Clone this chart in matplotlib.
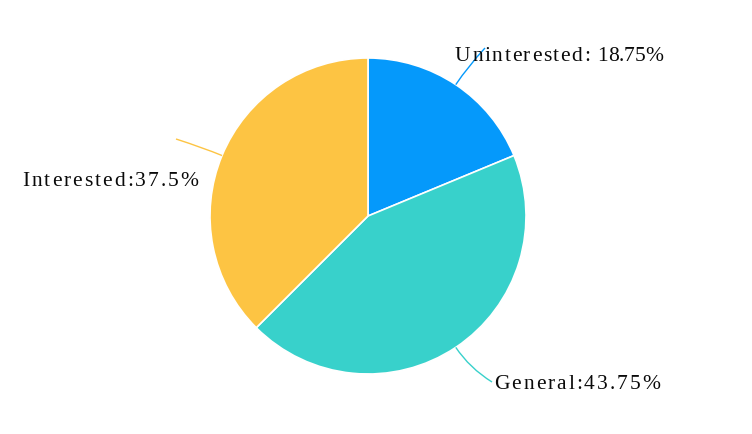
import numpy as np
import matplotlib.pyplot as plt
from matplotlib.path import Path
from matplotlib.patches import PathPatch
from matplotlib import font_manager
from matplotlib.ft2font import FT2Font

# data
labels = ["Uninterested", "General", "Interested"]
values = [18.75, 43.75, 37.5]
colors = ["#0599FB", "#38D1CB", "#FDC443"]

W, H = 752, 434
fig = plt.figure(figsize=(W / 100, H / 100), dpi=100)
ax = fig.add_axes([0, 0, 1, 1])

cx, cy, r = 368, H - 216, 158
wedges, _ = ax.pie(values, colors=colors, startangle=90, counterclock=False,
                   center=(cx, cy), radius=r, frame=True,
                   wedgeprops=dict(edgecolor="white", linewidth=1.2))
ax.set_xlim(0, W)
ax.set_ylim(0, H)
ax.set_aspect("equal")
ax.axis("off")

# leader lines: (extra radius for bend, end point in pixels from top-left)
leaders = [(22, (485, 48)), (25, (492, 382)), (20, (176, 139))]
for w, col, (ext, end) in zip(wedges, colors, leaders):
    ang = np.deg2rad((w.theta1 + w.theta2) / 2)
    d = np.array([np.cos(ang), np.sin(ang)])
    p0 = np.array([cx, cy]) + r * d
    p1 = np.array([cx, cy]) + (r + ext) * d
    p2 = np.array([end[0], H - end[1]])
    path = Path([p0, p1, p2], [Path.MOVETO, Path.CURVE3, Path.CURVE3])
    ax.add_patch(PathPatch(path, fill=False, edgecolor=col, lw=1))

fsize = 15.5
font = dict(family="Liberation Serif", size=fsize, color="#0a0a0a")
ft = FT2Font(font_manager.findfont("Liberation Serif"))
ft.set_size(fsize, 100)


def advance(ch):
    g = ft.load_char(ord(ch))
    return g.linearHoriAdvance / 65536


def spaced(x, y, parts):
    # draw text char by char with extra letter spacing
    for s, sp in parts:
        for ch in s:
            ax.text(x, H - y, ch, va="baseline", ha="left", **font)
            x += advance(ch) + sp


spaced(455, 61, [("Uninterested:", 1.6), (" 18.75%", 0.0)])
spaced(494, 389, [("General:43.75%", 2.0)])
spaced(22, 186, [("Interested:37.5%", 2.0)])

fig.savefig("out.png", dpi=100, facecolor="white")
